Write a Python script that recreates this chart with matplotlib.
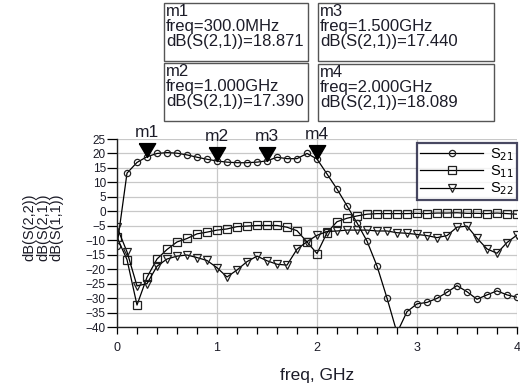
import numpy as np
import matplotlib.pyplot as plt
from matplotlib.patches import Rectangle

# frequency points, GHz (0.1 GHz step)
freq = [round(0.1 * i, 1) for i in range(41)]

s21 = [-12.0, 13.2, 16.9, 18.871, 20.0, 20.3, 20.1, 19.5, 18.7, 18.0,
       17.39, 17.0, 16.8, 16.8, 17.0, 17.44, 18.7, 18.2, 18.2, 20.0,
       18.089, 12.9, 7.7, 1.9, -4.0, -10.3, -18.9, -30.0, -42.0, -34.7,
       -32.0, -31.5, -30.1, -28.0, -25.7, -27.8, -30.4, -28.9, -27.5, -28.9,
       -29.7]
s11 = [-9.0, -16.7, -32.4, -22.8, -16.5, -13.2, -10.6, -9.4, -7.8, -7.2,
       -6.5, -6.1, -5.3, -5.1, -4.9, -4.9, -4.9, -5.5, -6.7, -10.6,
       -14.6, -7.4, -3.6, -2.4, -1.6, -1.0, -0.8, -0.8, -0.8, -0.8,
       -0.7, -0.8, -0.6, -0.6, -0.5, -0.7, -0.7, -0.8, -0.6, -0.8,
       -1.0]
s22 = [-5.5, -14.0, -25.8, -25.0, -19.0, -16.5, -15.5, -15.1, -16.0, -17.0,
       -19.5, -22.7, -20.3, -17.4, -15.5, -17.1, -18.3, -18.6, -13.1, -10.5,
       -8.3, -7.0, -6.8, -6.5, -6.5, -6.5, -6.8, -6.8, -7.4, -7.6,
       -8.0, -8.4, -9.1, -8.4, -5.5, -5.1, -9.3, -13.0, -14.5, -10.8,
       -8.2]

# markers
mk_names = ['m1', 'm2', 'm3', 'm4']
mk_freq = [0.3, 1.0, 1.5, 2.0]
mk_text = ['300.0MHz', '1.000GHz', '1.500GHz', '2.000GHz']
mk_val = [18.871, 17.390, 17.440, 18.089]

ink = '#1c1c28'
plt.rcParams['font.family'] = ['Liberation Sans', 'DejaVu Sans']

fig = plt.figure(figsize=(5.2, 3.85), dpi=100)
ax = fig.add_axes([117/520, 1-327/385, 400/520, 188/385])

ax.plot(freq, s21, '-', color='black', lw=0.9, marker='o', ms=4.5,
        mfc='none', mec='#202020', mew=0.9, label=r'S$_{21}$')
ax.plot(freq, s11, '-', color='black', lw=0.9, marker='s', ms=5.8,
        mfc='none', mec='#202020', mew=0.9, label=r'S$_{11}$')
ax.plot(freq, s22, '-', color='black', lw=0.9, marker='v', ms=5.8,
        mfc='none', mec='#202020', mew=0.9, label=r'S$_{22}$')

# marker triangles, tip on the data point
tri = [(-0.5, 0.85), (0.5, 0.85), (0, 0), (-0.5, 0.85)]
for n, f, v in zip(mk_names, mk_freq, mk_val):
    ax.plot([f], [v], marker=tri, ms=20, color='black', ls='none', clip_on=False)
    ax.annotate(n, (f, v), xytext=(0, 12), textcoords='offset points',
                ha='center', va='bottom', fontsize=12.5, color=ink,
                annotation_clip=False)

ax.set_xlim(0, 4)
ax.set_ylim(-40, 25)
ax.set_xticks([0, 1, 2, 3, 4])
ax.set_xticks(np.arange(0, 4.01, 0.2), minor=True)
ax.set_yticks(np.arange(-40, 26, 5))
ax.grid(True, which='major', color='#c8c8c8', lw=0.9)
ax.set_axisbelow(True)
for s in ['top', 'right']:
    ax.spines[s].set_visible(False)
for s in ['left', 'bottom']:
    ax.spines[s].set_color('#202020')
    ax.spines[s].set_linewidth(1.0)
ax.tick_params(axis='y', direction='out', length=7, width=0.9,
               labelsize=8.5, labelcolor=ink, pad=1)
ax.tick_params(axis='x', which='both', direction='out', length=5, width=0.9,
               labelsize=9, labelcolor=ink, pad=6)
ax.set_xlabel('freq, GHz', fontsize=12.5, color=ink, labelpad=10)

fig.text(43/520, 1-227/385, 'dB(S(2,2))\ndB(S(2,1))\ndB(S(1,1))',
         rotation=90, ha='center', va='center', fontsize=10.5, color=ink,
         linespacing=0.95)

leg = ax.legend(loc='upper right', bbox_to_anchor=(1.0, 1 - 4/188),
                fontsize=10.5, frameon=True, fancybox=False, handlelength=4.3,
                borderpad=0.2, labelspacing=0.05, handletextpad=0.5,
                borderaxespad=0.0)
leg.get_frame().set_edgecolor('#1a1a3a')
leg.get_frame().set_linewidth(1.6)

# marker readout boxes (pixel boxes: left, top, right, bottom)
boxes = [(164, 3, 308, 61), (164, 63, 308, 121),
         (318, 3, 494, 61), (318, 64, 494, 121)]
for (l, t, r, b), n, ft, v in zip(boxes, mk_names, mk_text, mk_val):
    fig.add_artist(Rectangle((l/520, 1-b/385), (r-l)/520, (b-t)/385,
                             transform=fig.transFigure, fill=False,
                             ec='#555555', lw=1.0))
    txt = f'{n}\nfreq={ft}\ndB(S(2,1))={v:.3f}'
    fig.text((l+2)/520, 1-(t+1)/385, txt, ha='left', va='top',
             fontsize=12, color=ink, linespacing=0.98)

fig.savefig('out.png', dpi=100)
